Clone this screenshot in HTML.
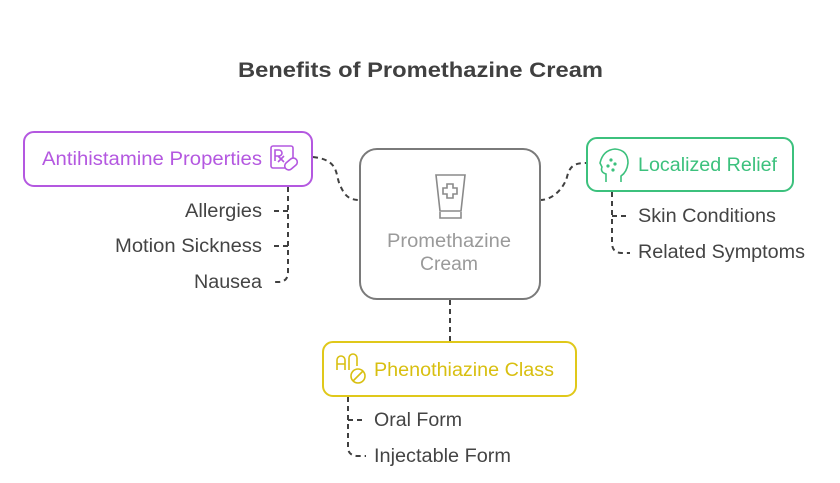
<!DOCTYPE html>
<html><head><style>
body{margin:0;background:#fff;}
svg text{font-family:"Liberation Sans",sans-serif;}
</style></head><body>
<svg width="840" height="478" viewBox="0 0 840 478" xmlns="http://www.w3.org/2000/svg">
<text x="238" y="77" font-size="21" font-weight="bold" fill="#404040" textLength="365" lengthAdjust="spacingAndGlyphs">Benefits of Promethazine Cream</text>
<g fill="none" stroke="#404040" stroke-width="2" stroke-dasharray="5,4">
<path d="M313 157 C340 160,335 175,340 185 C345 197,350 200,360 200"/>
<path d="M540 200 C555 200,565 185,567 177 C570 165,575 163,587 163"/>
<path d="M450 300 V342"/>
<path d="M288 187 V272 Q288 282,278 282 H272"/>
<path d="M288 211 H272 M288 246 H272"/>
<path d="M612 192 V243 Q612 253,622 253 H630"/>
<path d="M612 216 H630"/>
<path d="M348 397 V447 Q348 456,358 456 H366"/>
<path d="M348 420 H366"/>
</g>
<rect x="360" y="149" width="180" height="150" rx="17" fill="#fff" stroke="#7a7a7a" stroke-width="2"/>
<g fill="none" stroke="#8a8a8a" stroke-width="1.6">
<path d="M436 175 H465 L461 211 H440 Z"/>
<path d="M440 212 V218 H461 V212"/>
<path d="M447 184 h6 v4 h4 v6 h-4 v4 h-6 v-4 h-4 v-6 h4 z"/>
</g>
<text x="387" y="247" font-size="19" fill="#9a9a9a" textLength="124" lengthAdjust="spacingAndGlyphs">Promethazine</text>
<text x="420" y="270" font-size="19" fill="#9a9a9a" textLength="58" lengthAdjust="spacingAndGlyphs">Cream</text>
<rect x="24" y="132" width="288" height="54" rx="10" fill="#fff" stroke="#b458e0" stroke-width="2"/>
<text x="42" y="165" font-size="19" fill="#b458e0" textLength="220" lengthAdjust="spacingAndGlyphs">Antihistamine Properties</text>
<g fill="none" stroke="#b458e0" stroke-width="1.6">
<rect x="271" y="146" width="22" height="22" rx="2"/>
<path d="M275 161 V150 h4 a3 3 0 0 1 0 6 h-4 M278 156 l6 6 M284 156 l-6 6"/>
<rect x="284" y="160" width="14" height="8" rx="4" transform="rotate(-40 291 164)" fill="#fff"/>
</g>
<rect x="587" y="138" width="206" height="53" rx="10" fill="#fff" stroke="#3cc17d" stroke-width="2"/>
<text x="638" y="171" font-size="19" fill="#3cc17d" textLength="139" lengthAdjust="spacingAndGlyphs">Localized Relief</text>
<g fill="none" stroke="#3cc17d" stroke-width="1.6">
<path d="M606 182 V174 Q600 172,602 167 L600 163 Q603 150,615 149 Q628 150,628 163 Q627 172,621 176 V182"/>
<circle cx="611" cy="160" r="0.8"/><circle cx="615" cy="164" r="0.8"/><circle cx="608" cy="166" r="0.8"/><circle cx="613" cy="170" r="0.8"/>
</g>
<rect x="323" y="342" width="253" height="54" rx="10" fill="#fff" stroke="#e0c81a" stroke-width="2"/>
<text x="374" y="376" font-size="19" fill="#d8bf10" textLength="180" lengthAdjust="spacingAndGlyphs">Phenothiazine Class</text>
<g fill="none" stroke="#d8bf10" stroke-width="1.6">
<path d="M337 370 V360 a4 4 0 0 1 8 0 V370 M337 364 H345 M349 370 V358 a4 4 0 0 1 8 0 V366"/>
<circle cx="358" cy="376" r="7"/><path d="M353 381 L363 371"/>
</g>
<g font-size="19" fill="#444">
<text x="185" y="217" textLength="77" lengthAdjust="spacingAndGlyphs">Allergies</text>
<text x="115" y="252" textLength="147" lengthAdjust="spacingAndGlyphs">Motion Sickness</text>
<text x="194" y="288" textLength="68" lengthAdjust="spacingAndGlyphs">Nausea</text>
<text x="638" y="222" textLength="138" lengthAdjust="spacingAndGlyphs">Skin Conditions</text>
<text x="638" y="258" textLength="167" lengthAdjust="spacingAndGlyphs">Related Symptoms</text>
<text x="374" y="426" textLength="88" lengthAdjust="spacingAndGlyphs">Oral Form</text>
<text x="374" y="462" textLength="137" lengthAdjust="spacingAndGlyphs">Injectable Form</text>
</g>
</svg>
</body></html>
